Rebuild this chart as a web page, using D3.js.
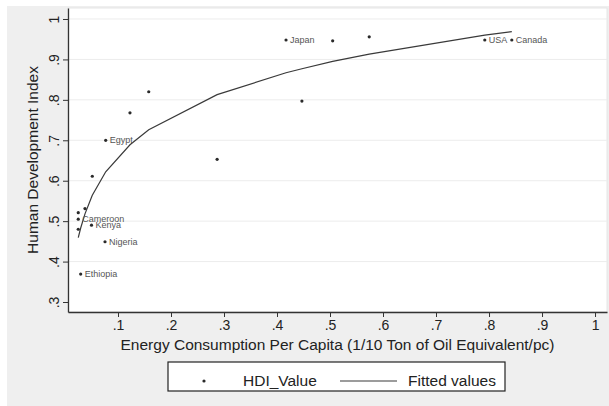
<!DOCTYPE html>
<html><head><meta charset="utf-8">
<script src="https://cdn.jsdelivr.net/npm/d3@7"></script>
<style>body{margin:0;background:#fff;}svg{display:block;font-family:"Liberation Sans",Arial,sans-serif;}</style>
</head><body>
<svg id="c" width="609" height="406"></svg>
<script>
const energy = [0.025,0.025,0.025,0.0296,0.0377,0.050,0.0515,0.0755,0.0768,0.1226,0.158,0.287,0.417,0.447,0.505,0.574,0.792,0.843];
const hdi    = [0.521,0.505,0.480,0.369,0.531,0.490,0.611,0.449,0.700,0.768,0.820,0.653,0.948,0.797,0.946,0.956,0.948,0.948];
const country= ["","Cameroon","","Ethiopia","","Kenya","","Nigeria","Egypt","","","","Japan","","","","USA","Canada"];
const fitted = [0.459,0.459,0.459,0.483,0.518,0.559,0.564,0.619,0.622,0.689,0.726,0.813,0.867,0.877,0.895,0.913,0.960,0.969];
const xTicks = [0.1,0.2,0.3,0.4,0.5,0.6,0.7,0.8,0.9,1];
const yTicks = [0.3,0.4,0.5,0.6,0.7,0.8,0.9,1];
const tickLabel = v => v === 1 ? "1" : String(v).replace(/^0/, "");

const svg = d3.select("#c");
const L = 68, R = 607, T = 8, B = 312;
const x = d3.scaleLinear().domain([0.00566, 1.0226]).range([L, R]);
const y = d3.scaleLinear().domain([0.2753, 1.0272]).range([B, T]);

svg.append("rect").attr("x",7).attr("y",6).attr("width",602).attr("height",400).attr("fill","#efefef");
svg.append("rect").attr("x",L).attr("y",T).attr("width",R-L).attr("height",B-T).attr("fill","#fff").attr("stroke","#e6e6e6");

// gridlines
svg.append("g").selectAll("line").data(yTicks.filter(v => v > 0.3)).join("line")
  .attr("x1",L).attr("x2",R).attr("y1",d=>y(d)).attr("y2",d=>y(d))
  .attr("stroke","#ececec").attr("stroke-width",1);

// axes
const xAxis = svg.append("g").attr("transform",`translate(0,${B})`)
  .call(d3.axisBottom(x).tickValues(xTicks).tickFormat(tickLabel).tickSize(5).tickSizeOuter(0));
const yAxis = svg.append("g").attr("transform",`translate(${L},0)`)
  .call(d3.axisLeft(y).tickValues(yTicks).tickFormat(tickLabel).tickSize(5).tickSizeOuter(0));
[xAxis,yAxis].forEach(a=>{
  a.select(".domain").attr("stroke","#333").attr("stroke-width",1.3);
  a.selectAll(".tick line").attr("stroke","#333");
  a.selectAll("text").attr("fill","#222").style("font-size","14px").style("font-family","'Liberation Sans',Arial,sans-serif");
});
xAxis.selectAll("text").attr("y",8).attr("dy","0.71em");
yAxis.selectAll("text").attr("transform","rotate(-90)")
  .attr("x",0).attr("y",-9).attr("dy","0").attr("text-anchor","middle");

// axis titles
svg.append("text").attr("x",(L+R)/2).attr("y",350).attr("text-anchor","middle")
  .style("font-size","15.5px").attr("fill","#222")
  .text("Energy Consumption Per Capita (1/10 Ton of Oil Equivalent/pc)");
svg.append("text").attr("transform",`translate(38,${(T+B)/2}) rotate(-90)`).attr("text-anchor","middle")
  .style("font-size","15.5px").attr("fill","#222").text("Human Development Index");

// fitted line
const idx = d3.range(energy.length);
svg.append("path").datum(idx)
  .attr("d", d3.line().x(i=>x(energy[i])).y(i=>y(fitted[i])))
  .attr("fill","none").attr("stroke","#3a3a3a").attr("stroke-width",1.2);

// points
svg.append("g").selectAll("circle").data(idx).join("circle")
  .attr("cx",i=>x(energy[i])).attr("cy",i=>y(hdi[i])).attr("r",1.6).attr("fill","#2a2a2a");
svg.append("g").selectAll("text").data(idx.filter(i=>country[i])).join("text")
  .attr("x",i=>x(energy[i])+4).attr("y",i=>y(hdi[i])).attr("dy","0.35em")
  .style("font-size","9px").attr("fill","#555").text(i=>country[i]);

// legend
const lg = svg.append("g");
lg.append("rect").attr("x",168).attr("y",362).attr("width",337).attr("height",29).attr("fill","#fff").attr("stroke","#222").attr("stroke-width",1.2);
lg.append("circle").attr("cx",204).attr("cy",381).attr("r",1.6).attr("fill","#2a2a2a");
lg.append("text").attr("x",243).attr("y",386).style("font-size","15.5px").attr("fill","#222").text("HDI_Value");
lg.append("line").attr("x1",340).attr("x2",397).attr("y1",381).attr("y2",381).attr("stroke","#3a3a3a").attr("stroke-width",1.1);
lg.append("text").attr("x",408).attr("y",386).style("font-size","15.5px").attr("fill","#222").text("Fitted values");
</script>
</body></html>
